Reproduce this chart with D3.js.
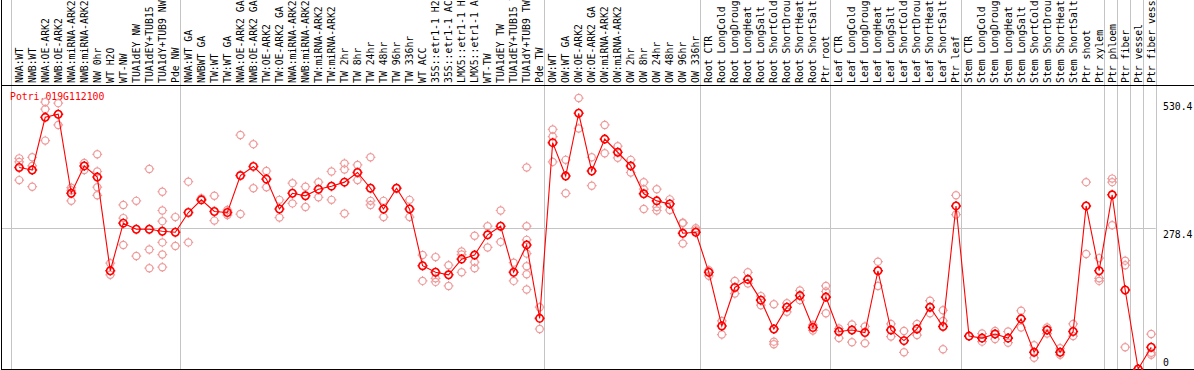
<!DOCTYPE html>
<html>
<head>
<meta charset="utf-8">
<script src="https://cdn.jsdelivr.net/npm/d3@7"></script>
<style>
  body { margin: 0; background: #fff; }
  svg { display: block; font-family: "DejaVu Sans Mono", monospace; }
</style>
</head>
<body>
<script>
const geneName = "Potri.019G112100";

const categories = [
  "NWA:WT", "NWB:WT", "NWA:OE-ARK2", "NWB:OE-ARK2", "NWA:miRNA-ARK2", "NWB:miRNA-ARK2",
  "NW 0hr", "WT H2O", "WT-NW", "TUA1dEY NW", "TUA1dEY+TUB15 NW", "TUA1dY+TUB9 NW", "Pde NW",
  "NWA:WT GA", "NWBWT GA", "TW:WT", "TW:WT GA", "NWA:OE-ARK2 GA", "NWB:OE-ARK2 GA",
  "TW:OE-ARK2", "TW:OE-ARK2 GA", "NWA:miRNA-ARK2 GA", "NWB:miRNA-ARK2 GA", "TW:miRNA-ARK2",
  "TW:miRNA-ARK2", "TW 2hr", "TW 8hr", "TW 24hr", "TW 48hr", "TW 96hr", "TW 336hr", "WT ACC",
  "35S::etr1-1 H2O", "35S::etr1-1 ACC", "LMX5::etr1-1 H2O", "LMX5::etr1-1 ACC", "WT-TW",
  "TUA1dEY TW", "TUA1dEY+TUB15 TW", "TUA1dY+TUB9 TW", "Pde TW",
  "OW:WT", "OW:WT GA", "OW:OE-ARK2", "OW:OE-ARK2 GA", "OW:miRNA-ARK2", "OW:miRNA-ARK2",
  "OW 2hr", "OW 8hr", "OW 24hr", "OW 48hr", "OW 96hr", "OW 336hr",
  "Root CTR", "Root LongCold", "Root LongDrought", "Root LongHeat", "Root LongSalt",
  "Root ShortCold", "Root ShortDrought", "Root ShortHeat", "Root ShortSalt", "Ptr root",
  "Leaf CTR", "Leaf LongCold", "Leaf LongDrought", "Leaf LongHeat", "Leaf LongSalt",
  "Leaf ShortCold", "Leaf ShortDrought", "Leaf ShortHeat", "Leaf ShortSalt", "Ptr leaf",
  "Stem CTR", "Stem LongCold", "Stem LongDrought", "Stem LongHeat", "Stem LongSalt",
  "Stem ShortCold", "Stem ShortDrought", "Stem ShortHeat", "Stem ShortSalt", "Ptr shoot",
  "Ptr xylem", "Ptr phloem", "Ptr fiber", "Ptr vessel", "Ptr fiber vessel"
];

// category counts after which a separator line is drawn
const groupBreaks = [0, 13, 41, 53, 63, 73, 84, 85, 86, 87, 88];

// mean expression per sample
const means = [
  398, 393, 497, 503, 347, 401, 379, 194, 288, 276, 276, 272, 270,
  309, 334, 311, 309, 382, 400, 375, 316, 347, 342, 355, 361, 369, 388, 357, 316, 357, 316,
  204, 191, 186, 217, 225, 265, 282, 191, 245, 100,
  447, 381, 505, 391, 454, 428, 401, 346, 332, 326, 268, 270,
  191, 85, 161, 177, 136, 79, 122, 145, 82, 142,
  74, 77, 72, 194, 77, 56, 79, 122, 84, 322,
  65, 61, 69, 61, 99, 33, 77, 33, 74, 322, 194,
  344, 156, 0, 43
];

// individual replicate values per sample
const replicates = [
  [416, 409, 373], [418, 360, 401], [527, 513, 451], [525, 482], [358, 353, 332], [407, 393],
  [424, 390, 359, 343], [209, 186], [324, 298, 245], [332, 223], [395, 236, 199],
  [350, 313, 292, 250, 226, 201], [300, 243],
  [370, 250], [337], [342, 293], [314, 304], [462, 306], [444, 357], [391, 359], [334, 299],
  [367, 327], [360, 320], [369, 339], [390, 334], [406, 394, 307], [403, 373], [418, 332, 324],
  [332, 300], [357], [334, 300],
  [225, 174], [221, 179, 172], [205, 164], [232, 226, 191], [263, 211, 199], [282, 240],
  [313, 251], [210, 174], [398, 282, 255, 228, 203, 187, 157], [122, 79],
  [473, 459, 409], [413, 347], [535, 475], [418, 362], [482, 426], [440, 417], [413, 388],
  [369, 355, 316], [355, 320, 313], [335, 314], [289, 288, 248], [278, 274],
  [195, 184], [95, 68], [174, 149], [191, 169], [144, 126], [128, 54, 49], [130, 113],
  [155, 136], [87, 76], [164, 153, 110],
  [80, 61], [88, 53], [84, 51], [212, 164], [89, 64], [75, 33], [89, 67], [135, 110],
  [116, 95, 39], [343, 305],
  [65], [70, 54], [75, 59], [74, 52], [115, 82], [47, 22], [82, 70], [41, 28], [89, 65],
  [369, 227], [219, 179, 174],
  [376, 369, 284], [214, 205, 43], [0], [69, 32, 28]
];

const yMax = 530.4;
const yTicks = [530.4, 278.4, 0];

// circle outline with four little ticks, like the original markers
function markerPath(r, t) {
  return `M${-r},0a${r},${r} 0 1,0 ${2 * r},0a${r},${r} 0 1,0 ${-2 * r},0` +
    `M0,${-r - t}V${-r}M0,${r}V${r + t}M${-r - t},0H${-r}M${r},0H${r + t}`;
}

function drawChart(width = 1194, height = 370) {
  const svg = d3.select("body")
    .append("svg")
    .attr("width", width)
    .attr("height", height);

  const headerBottom = 85;
  const plotBottom = 369;
  const plotLeft = 10.7;
  const plotRight = 1155.7;

  const x = d3.scaleBand()
    .domain(d3.range(categories.length))
    .range([plotLeft, plotRight]);
  const cx = i => x(i) + 8.5;

  const y = d3.scaleLinear()
    .domain([0, yMax])
    .range([plotBottom, 100.4]);

  // group separators
  svg.append("g")
    .selectAll("line")
    .data(groupBreaks)
    .join("line")
    .attr("x1", k => Math.round(plotLeft + k * x.step()) + 0.5)
    .attr("x2", k => Math.round(plotLeft + k * x.step()) + 0.5)
    .attr("y1", 0)
    .attr("y2", plotBottom)
    .attr("stroke", "#c4c4c4")
    .attr("stroke-width", 1);

  // horizontal grid at inner ticks
  svg.append("g")
    .selectAll("line")
    .data(yTicks.filter(v => v > 0 && v < yMax))
    .join("line")
    .attr("x1", 2)
    .attr("x2", plotRight)
    .attr("y1", v => Math.round(y(v)) + 0.5)
    .attr("y2", v => Math.round(y(v)) + 0.5)
    .attr("stroke", "#c4c4c4");

  // frame
  svg.append("line")
    .attr("x1", 1.5).attr("x2", 1.5)
    .attr("y1", 0).attr("y2", plotBottom + 1)
    .attr("stroke", "#000");
  svg.append("line")
    .attr("x1", 1).attr("x2", width)
    .attr("y1", headerBottom + 0.5).attr("y2", headerBottom + 0.5)
    .attr("stroke", "#000");
  svg.append("line")
    .attr("x1", 1).attr("x2", width)
    .attr("y1", plotBottom + 0.5).attr("y2", plotBottom + 0.5)
    .attr("stroke", "#000");

  // sample labels, vertical
  svg.append("g")
    .selectAll("text")
    .data(categories)
    .join("text")
    .attr("transform", (d, i) => `translate(${cx(i)},${headerBottom - 2}) rotate(-90)`)
    .attr("dy", "0.35em")
    .attr("font-size", "9.8px")
    .attr("fill", "#000")
    .text(d => d);

  // y tick labels on the right
  svg.append("g")
    .selectAll("text")
    .data(yTicks)
    .join("text")
    .attr("x", 1163)
    .attr("y", v => Math.min(y(v) + 2, plotBottom - 11))
    .attr("dy", "0.8em")
    .attr("font-size", "9.8px")
    .attr("fill", "#000")
    .text(v => v === 0 ? "0" : v.toFixed(1));

  // gene name
  svg.append("text")
    .attr("x", 10)
    .attr("y", 100)
    .attr("font-size", "9.8px")
    .attr("fill", "#ff0000")
    .text(geneName);

  // replicate markers
  const repPoints = replicates.flatMap((vals, i) => vals.map(v => ({ i, v })));
  svg.append("g")
    .selectAll("path")
    .data(repPoints)
    .join("path")
    .attr("transform", d => `translate(${cx(d.i)},${y(d.v)})`)
    .attr("d", markerPath(3.6, 1.3))
    .attr("fill", "none")
    .attr("stroke", "#ee9a9a")
    .attr("stroke-width", 1.2);

  // mean line
  const line = d3.line()
    .x((d, i) => cx(i))
    .y(d => y(d));

  svg.append("path")
    .datum(means)
    .attr("d", line)
    .attr("fill", "none")
    .attr("stroke", "#ff0000")
    .attr("stroke-width", 1.1);

  // mean markers
  svg.append("g")
    .selectAll("path")
    .data(means)
    .join("path")
    .attr("transform", (d, i) => `translate(${cx(i)},${y(d)})`)
    .attr("d", markerPath(3.7, 1.3))
    .attr("fill", "none")
    .attr("stroke", "#ff0000")
    .attr("stroke-width", 1.6);
}

drawChart();
</script>
</body>
</html>
